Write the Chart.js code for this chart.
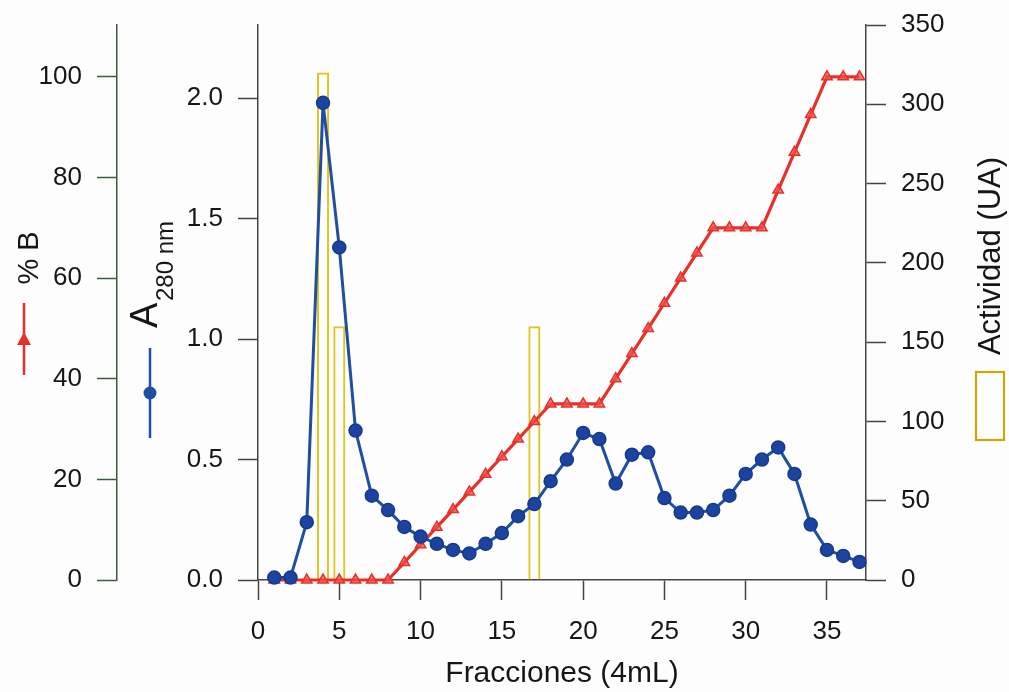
<!DOCTYPE html>
<html>
<head>
<meta charset="utf-8">
<script src="https://cdn.jsdelivr.net/npm/chart.js@4.4.1/dist/chart.umd.min.js"></script>
<style>
  html, body { margin: 0; padding: 0; background: #fdfdfd; }
  canvas { display: block; }
</style>
</head>
<body>
<canvas id="c" width="1009" height="692"></canvas>
<script>
// ---- data ----
const fractions = [1,2,3,4,5,6,7,8,9,10,11,12,13,14,15,16,17,18,19,20,21,22,23,24,25,26,27,28,29,30,31,32,33,34,35,36,37];
const absorbance280 = [0.01,0.01,0.24,1.98,1.38,0.62,0.35,0.29,0.22,0.18,0.15,0.125,0.11,0.15,0.195,0.265,0.315,0.41,0.50,0.61,0.585,0.40,0.52,0.53,0.34,0.28,0.28,0.29,0.35,0.44,0.50,0.55,0.44,0.23,0.125,0.10,0.075];
const percentB = [0,0,0,0,0,0,0,0,3.5,7,10.5,14,17.5,21,24.5,28,31.5,35,35,35,35,40,45,50,55,60,65,70,70,70,70,77.5,85,92.5,100,100,100];
const activityFractions = [4,5,17];
const activityUA = [320,160,160];

const xTickValues = [0,5,10,15,20,25,30,35];
const a280TickValues = [0,0.5,1.0,1.5,2.0];
const percentBTickValues = [0,20,40,60,80,100];
const activityTickValues = [0,50,100,150,200,250,300,350];

const FONT = '"Liberation Sans", Arial, Helvetica, sans-serif';
Chart.defaults.font.family = FONT;

const pts = (xs, ys) => xs.map((x, i) => ({ x: x, y: ys[i] }));
const setTicks = vals => scale => { scale.ticks = vals.map(v => ({ value: v })); };
const fitWidth = w => s => { s.width = w; s.paddingTop = 0; s.paddingBottom = 0; };

const AXIS = '#444444';
const GREEN_AXIS = '#3c5a3c';
const TXT = '#161616';
const RED = '#e8302a';
const BLUE = '#1f4ea3';
const GOLD = '#e2c51c';

const decorations = {
  id: 'decorations',
  afterDraw(chart) {
    const ctx = chart.ctx;
    ctx.save();
    ctx.fillStyle = TXT;

    // "% B" title
    ctx.save();
    ctx.translate(38, 258);
    ctx.rotate(-Math.PI / 2);
    ctx.font = '29px ' + FONT;
    ctx.textAlign = 'center';
    ctx.textBaseline = 'alphabetic';
    ctx.fillText('% B', 0, 0);
    ctx.restore();

    // red marker
    ctx.strokeStyle = RED; ctx.lineWidth = 2.5;
    ctx.beginPath(); ctx.moveTo(24, 303); ctx.lineTo(24, 375); ctx.stroke();
    ctx.fillStyle = RED;
    ctx.beginPath(); ctx.moveTo(24, 332); ctx.lineTo(31, 345); ctx.lineTo(17, 345); ctx.closePath(); ctx.fill();

    // "A280 nm" title
    ctx.fillStyle = TXT;
    ctx.save();
    ctx.translate(157, 328);
    ctx.rotate(-Math.PI / 2);
    ctx.textAlign = 'left';
    ctx.textBaseline = 'alphabetic';
    ctx.font = '38px ' + FONT;
    ctx.fillText('A', 0, 0);
    ctx.font = '24px ' + FONT;
    ctx.fillText('280 nm', 27, 16);
    ctx.restore();

    // blue marker
    ctx.strokeStyle = BLUE; ctx.lineWidth = 2.5;
    ctx.beginPath(); ctx.moveTo(150, 348); ctx.lineTo(150, 438); ctx.stroke();
    ctx.fillStyle = BLUE;
    ctx.beginPath(); ctx.arc(150, 393, 6.5, 0, Math.PI * 2); ctx.fill();

    // "Actividad (UA)" title
    ctx.fillStyle = TXT;
    ctx.save();
    ctx.translate(1000, 256);
    ctx.rotate(-Math.PI / 2);
    ctx.font = '31px ' + FONT;
    ctx.textAlign = 'center';
    ctx.textBaseline = 'alphabetic';
    ctx.fillText('Actividad (UA)', 0, 0);
    ctx.restore();

    // activity legend box
    ctx.strokeStyle = '#c9a80a'; ctx.lineWidth = 2.2;
    ctx.strokeRect(976, 372, 28, 68);

    ctx.restore();
  }
};

new Chart(document.getElementById('c'), {
  type: 'line',
  data: {
    datasets: [
      {
        type: 'line',
        label: 'A280 nm',
        data: pts(fractions, absorbance280),
        yAxisID: 'yA',
        borderColor: BLUE,
        borderWidth: 3,
        pointStyle: 'circle',
        pointRadius: 6.5,
        pointBackgroundColor: '#1c43a0',
        pointBorderColor: '#163a8a',
        pointBorderWidth: 1.5,
        tension: 0,
        clip: false,
        order: 1
      },
      {
        type: 'line',
        label: '% B',
        data: pts(fractions, percentB),
        yAxisID: 'yB',
        borderColor: RED,
        borderWidth: 3.2,
        pointStyle: 'triangle',
        pointRadius: 6,
        pointBackgroundColor: 'rgba(236,80,80,0.75)',
        pointBorderColor: RED,
        pointBorderWidth: 1.5,
        tension: 0,
        clip: false,
        order: 2
      },
      {
        type: 'bar',
        label: 'Actividad (UA)',
        data: pts(activityFractions, activityUA),
        yAxisID: 'yR',
        backgroundColor: 'rgba(255,255,255,0)',
        borderColor: GOLD,
        borderWidth: 2,
        borderSkipped: 'start',
        categoryPercentage: 1.0,
        barPercentage: 0.74,
        order: 3
      }
    ]
  },
  options: {
    responsive: false,
    animation: false,
    devicePixelRatio: 1,
    layout: { padding: { top: 25, left: 0, right: 0, bottom: 0 } },
    plugins: { legend: { display: false }, tooltip: { enabled: false }, title: { display: false } },
    scales: {
      x: {
        type: 'linear',
        position: 'bottom',
        offset: false,
        min: 0,
        max: 37.4,
        afterBuildTicks: setTicks(xTickValues),
        afterFit: s => { s.height = 112; s.paddingLeft = 0; s.paddingRight = 0; },
        grid: { offset: false, drawOnChartArea: false, drawTicks: true, tickLength: 20, tickColor: AXIS, tickWidth: 1.5 },
        border: { display: true, color: AXIS, width: 1.5 },
        ticks: { color: TXT, font: { size: 26 }, padding: 16, maxRotation: 0 },
        title: { display: true, text: 'Fracciones (4mL)', color: TXT, font: { size: 30 }, padding: { top: 0, bottom: 0 } }
      },
      yA: {
        type: 'linear',
        position: 'left',
        weight: 0,
        min: 0,
        max: 2.303,
        afterBuildTicks: setTicks(a280TickValues),
        afterFit: fitWidth(141),
        grid: { drawOnChartArea: false, drawTicks: true, tickLength: 20, tickColor: AXIS, tickWidth: 1.5 },
        border: { display: true, color: AXIS, width: 1.5 },
        ticks: { color: TXT, font: { size: 26 }, padding: 15, callback: v => v.toFixed(1) }
      },
      yB: {
        type: 'linear',
        position: 'left',
        weight: 1,
        min: 0,
        max: 110.3,
        afterBuildTicks: setTicks(percentBTickValues),
        afterFit: fitWidth(117),
        grid: { drawOnChartArea: false, drawTicks: true, tickLength: 20, tickColor: GREEN_AXIS, tickWidth: 1.5 },
        border: { display: true, color: GREEN_AXIS, width: 1.5 },
        ticks: { color: TXT, font: { size: 26 }, padding: 15, callback: v => String(v) }
      },
      yR: {
        type: 'linear',
        position: 'right',
        min: 0,
        max: 350,
        afterBuildTicks: setTicks(activityTickValues),
        afterFit: fitWidth(143),
        grid: { drawOnChartArea: false, drawTicks: true, tickLength: 20, tickColor: AXIS, tickWidth: 1.5 },
        border: { display: true, color: AXIS, width: 1.5 },
        ticks: { color: TXT, font: { size: 26 }, padding: 15, callback: v => String(v) }
      }
    }
  },
  plugins: [decorations]
});
</script>
</body>
</html>
